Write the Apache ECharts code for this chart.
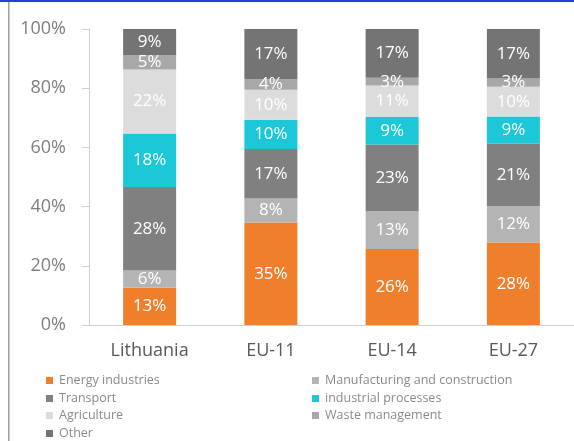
<!DOCTYPE html>
<html><head><meta charset="utf-8">
<script src="https://cdn.jsdelivr.net/npm/echarts@6/dist/echarts.min.js"></script>
<style>html,body{margin:0;padding:0;background:#fff}#c{width:574px;height:441px}</style>
</head><body><div id="c"></div>
<script>
const categories = ['Lithuania', 'EU-11', 'EU-14', 'EU-27'];
const seriesNames = ['Energy industries', 'Manufacturing and construction', 'Transport', 'industrial processes', 'Agriculture', 'Waste management', 'Other'];
const energy = [12.6, 34.6, 25.7, 27.9];
const manufacturing = [5.8, 8.1, 12.7, 12.2];
const transport = [28.2, 16.8, 22.6, 21.1];
const industrial = [18.1, 9.8, 9.3, 9.2];
const agriculture = [21.6, 10.2, 10.6, 10.1];
const waste = [4.9, 3.6, 2.6, 2.8];
const other = [8.8, 16.9, 16.5, 16.7];
const yTicks = [0, 20, 40, 60, 80, 100];

const values = [energy, manufacturing, transport, industrial, agriculture, waste, other];
const colors = ['#F07F2C', '#B4B4B4', '#808080', '#1CC8D8', '#DCDCDC', '#A8A8A8', '#747474'];
const FONT = '"Open Sans", "Liberation Sans", sans-serif';

// legend placement: [left, centerY] per series
const legendPos = [[46, 381], [312, 381], [46, 399], [312, 399], [46, 416], [312, 416], [46, 434]];

const chart = echarts.init(document.getElementById('c'), null, {renderer: 'canvas'});
chart.setOption({
  animation: false,
  backgroundColor: '#fff',
  grid: {left: 89, right: -13, top: 29, bottom: 116, containLabel: false},
  xAxis: {
    type: 'category', data: categories,
    axisLine: {lineStyle: {color: '#D0D0D0', width: 1}},
    axisTick: {show: false},
    axisLabel: {color: '#595959', fontSize: 18, fontFamily: FONT, margin: 17}
  },
  yAxis: {
    type: 'value', min: 0, max: 100, interval: 20,
    axisLine: {show: true, lineStyle: {color: '#D0D0D0'}},
    axisTick: {show: true, inside: false, length: 7, lineStyle: {color: '#D0D0D0'}},
    splitLine: {show: false},
    axisLabel: {color: '#7F7F7F', fontSize: 18, fontFamily: FONT, margin: 23,
      formatter: v => yTicks.includes(v) ? v + '%' : ''}
  },
  legend: seriesNames.map((n, i) => ({
    data: [n], left: legendPos[i][0], top: legendPos[i][1] - 7, padding: 0,
    itemWidth: 7, itemHeight: 7, itemGap: 0, icon: 'rect',
    textStyle: {color: '#8A8A8A', fontSize: 12.5, fontFamily: FONT, padding: [0, 0, 0, 1]}
  })),
  graphic: [
    {type: 'rect', shape: {x: 0, y: 0, width: 574, height: 2}, style: {fill: '#1F3FD8'}, silent: true},
    {type: 'rect', shape: {x: 8, y: 2, width: 1.5, height: 439}, style: {fill: '#A0A0A0'}, silent: true}
  ],
  series: seriesNames.map((name, i) => ({
    name, type: 'bar', stack: 'total', barWidth: 53,
    data: values[i],
    itemStyle: {color: colors[i]},
    label: {show: true, position: 'inside', color: '#fff', fontSize: 17, fontFamily: FONT,
      formatter: p => Math.round(p.value) + '%'}
  }))
});
</script></body></html>
